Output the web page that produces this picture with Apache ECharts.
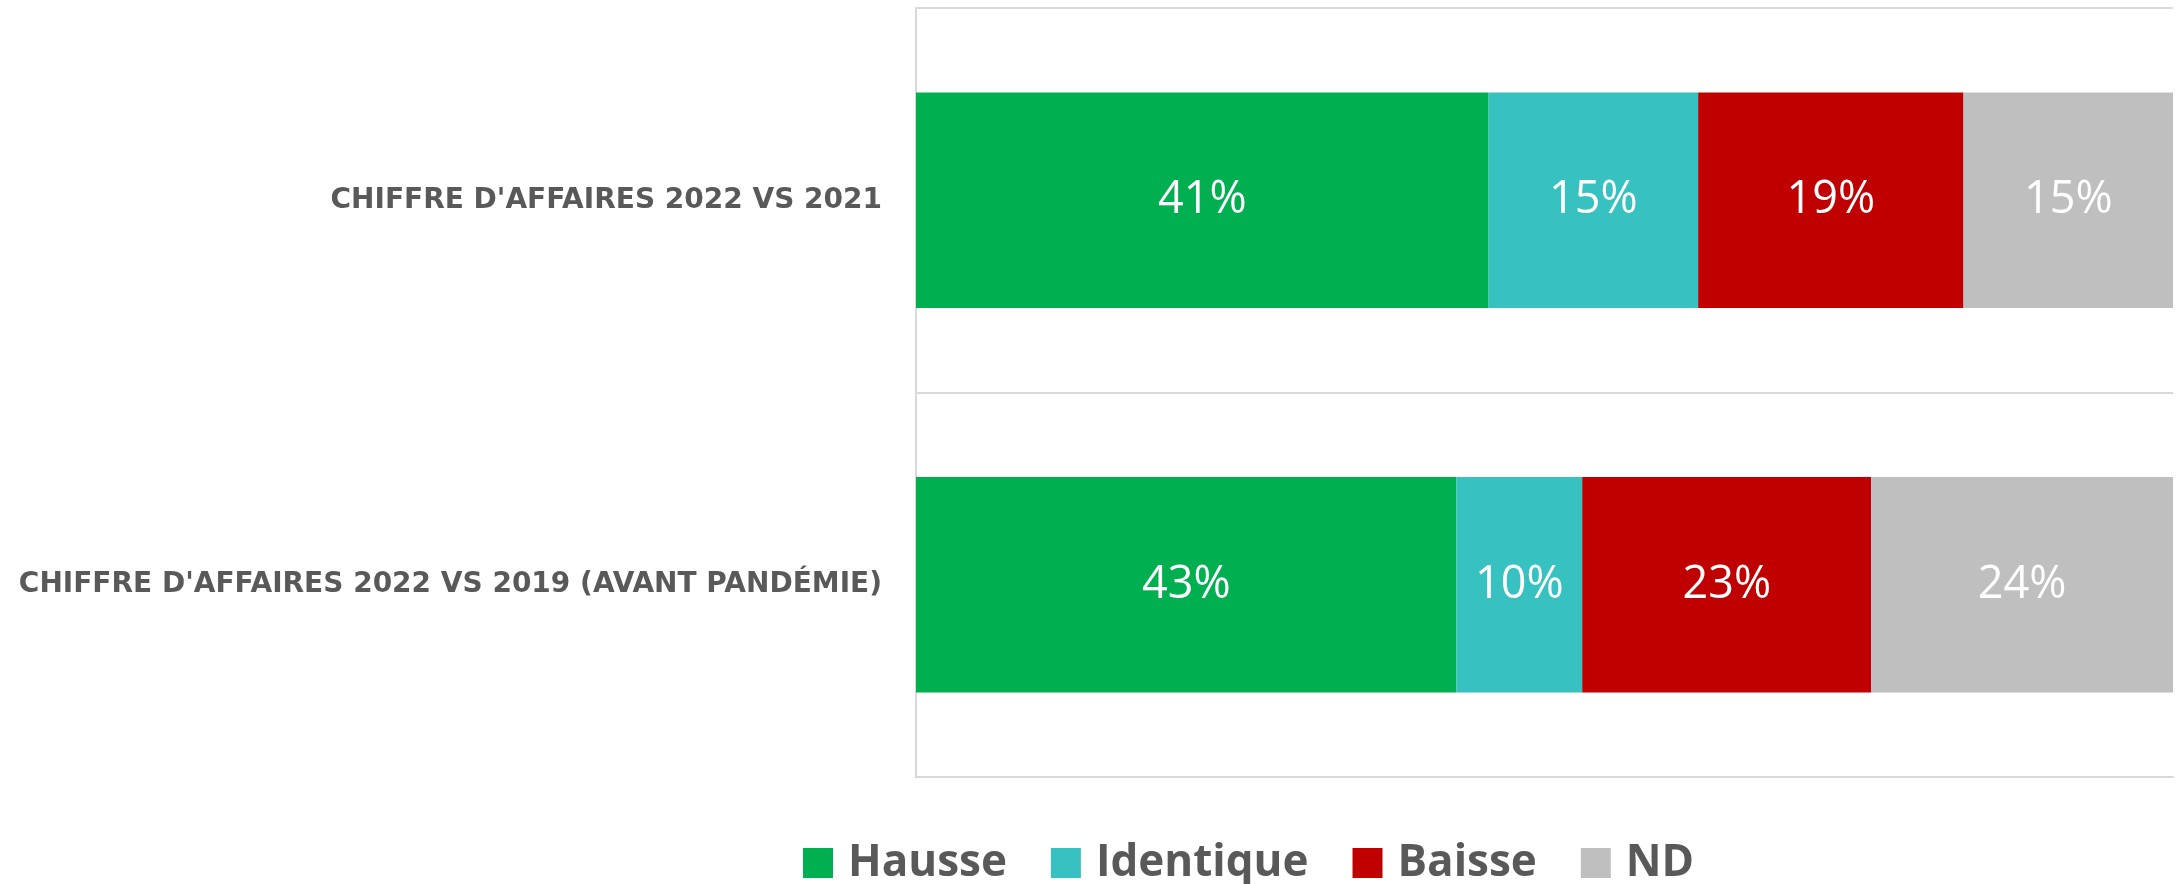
<!DOCTYPE html>
<html>
<head>
<meta charset="utf-8">
<script src="https://cdn.jsdelivr.net/npm/echarts@6/dist/echarts.min.js"></script>
<style>
    html, body { margin: 0; padding: 0; background: #fff; }
    #chart { width: 2182px; height: 884px; }
</style>
</head>
<body>
<div id="chart"></div>
<script>
const categories = [
    "CHIFFRE D'AFFAIRES 2022 VS 2021",
    "CHIFFRE D'AFFAIRES 2022 VS 2019 (AVANT PANDÉMIE)"
];
const seriesNames = ['Hausse', 'Identique', 'Baisse', 'ND'];
const hausse = [41, 43];
const identique = [15, 10];
const baisse = [19, 23];
const nd = [15, 24];

const colors = ['#00b050', '#37c1c1', '#c00000', '#bfbfbf'];
const rows = [hausse, identique, baisse, nd];

// barres empilées à 100% : chaque ligne est ramenée à son total
const totals = categories.map((c, i) => rows.reduce((s, r) => s + r[i], 0));

let myChart = echarts.init(document.getElementById('chart'));
const option = {
    animation: false,
    grid: {
        left: 916,
        right: 9,
        top: 8,
        bottom: 107
    },
    legend: {
        data: seriesNames,
        left: 803,
        top: 841,
        padding: 0,
        itemWidth: 30,
        itemHeight: 30,
        itemGap: 44,
        icon: 'rect',
        textStyle: {
            fontFamily: 'Open Sans',
            fontWeight: 'bold',
            fontSize: 44,
            color: '#595959',
            padding: [0, 0, 0, 10]
        }
    },
    xAxis: {
        type: 'value',
        min: 0,
        max: 100,
        show: true,
        axisLine: {
            show: true,
            lineStyle: { color: '#d9d9d9', width: 2 }
        },
        axisTick: { show: false },
        axisLabel: { show: false },
        splitLine: { show: false }
    },
    yAxis: {
        type: 'category',
        inverse: true,
        data: categories,
        axisLine: {
            show: true,
            lineStyle: { color: '#d9d9d9', width: 2 }
        },
        axisTick: { show: false },
        splitLine: {
            show: true,
            lineStyle: { color: '#d9d9d9', width: 2 }
        },
        axisLabel: {
            margin: 34,
            color: '#595959',
            fontFamily: 'DejaVu Sans',
            fontWeight: 'bold',
            fontSize: 28
        }
    },
    series: seriesNames.map((name, k) => ({
        name: name,
        type: 'bar',
        stack: 'total',
        barCategoryGap: '44%',
        itemStyle: { color: colors[k] },
        label: {
            show: true,
            position: 'inside',
            color: '#fff',
            fontFamily: 'Open Sans',
            fontSize: 45,
            formatter: p => p.data.raw + '%'
        },
        data: rows[k].map((v, i) => ({ value: v / totals[i] * 100, raw: v }))
    }))
};
myChart.setOption(option);
</script>
</body>
</html>
